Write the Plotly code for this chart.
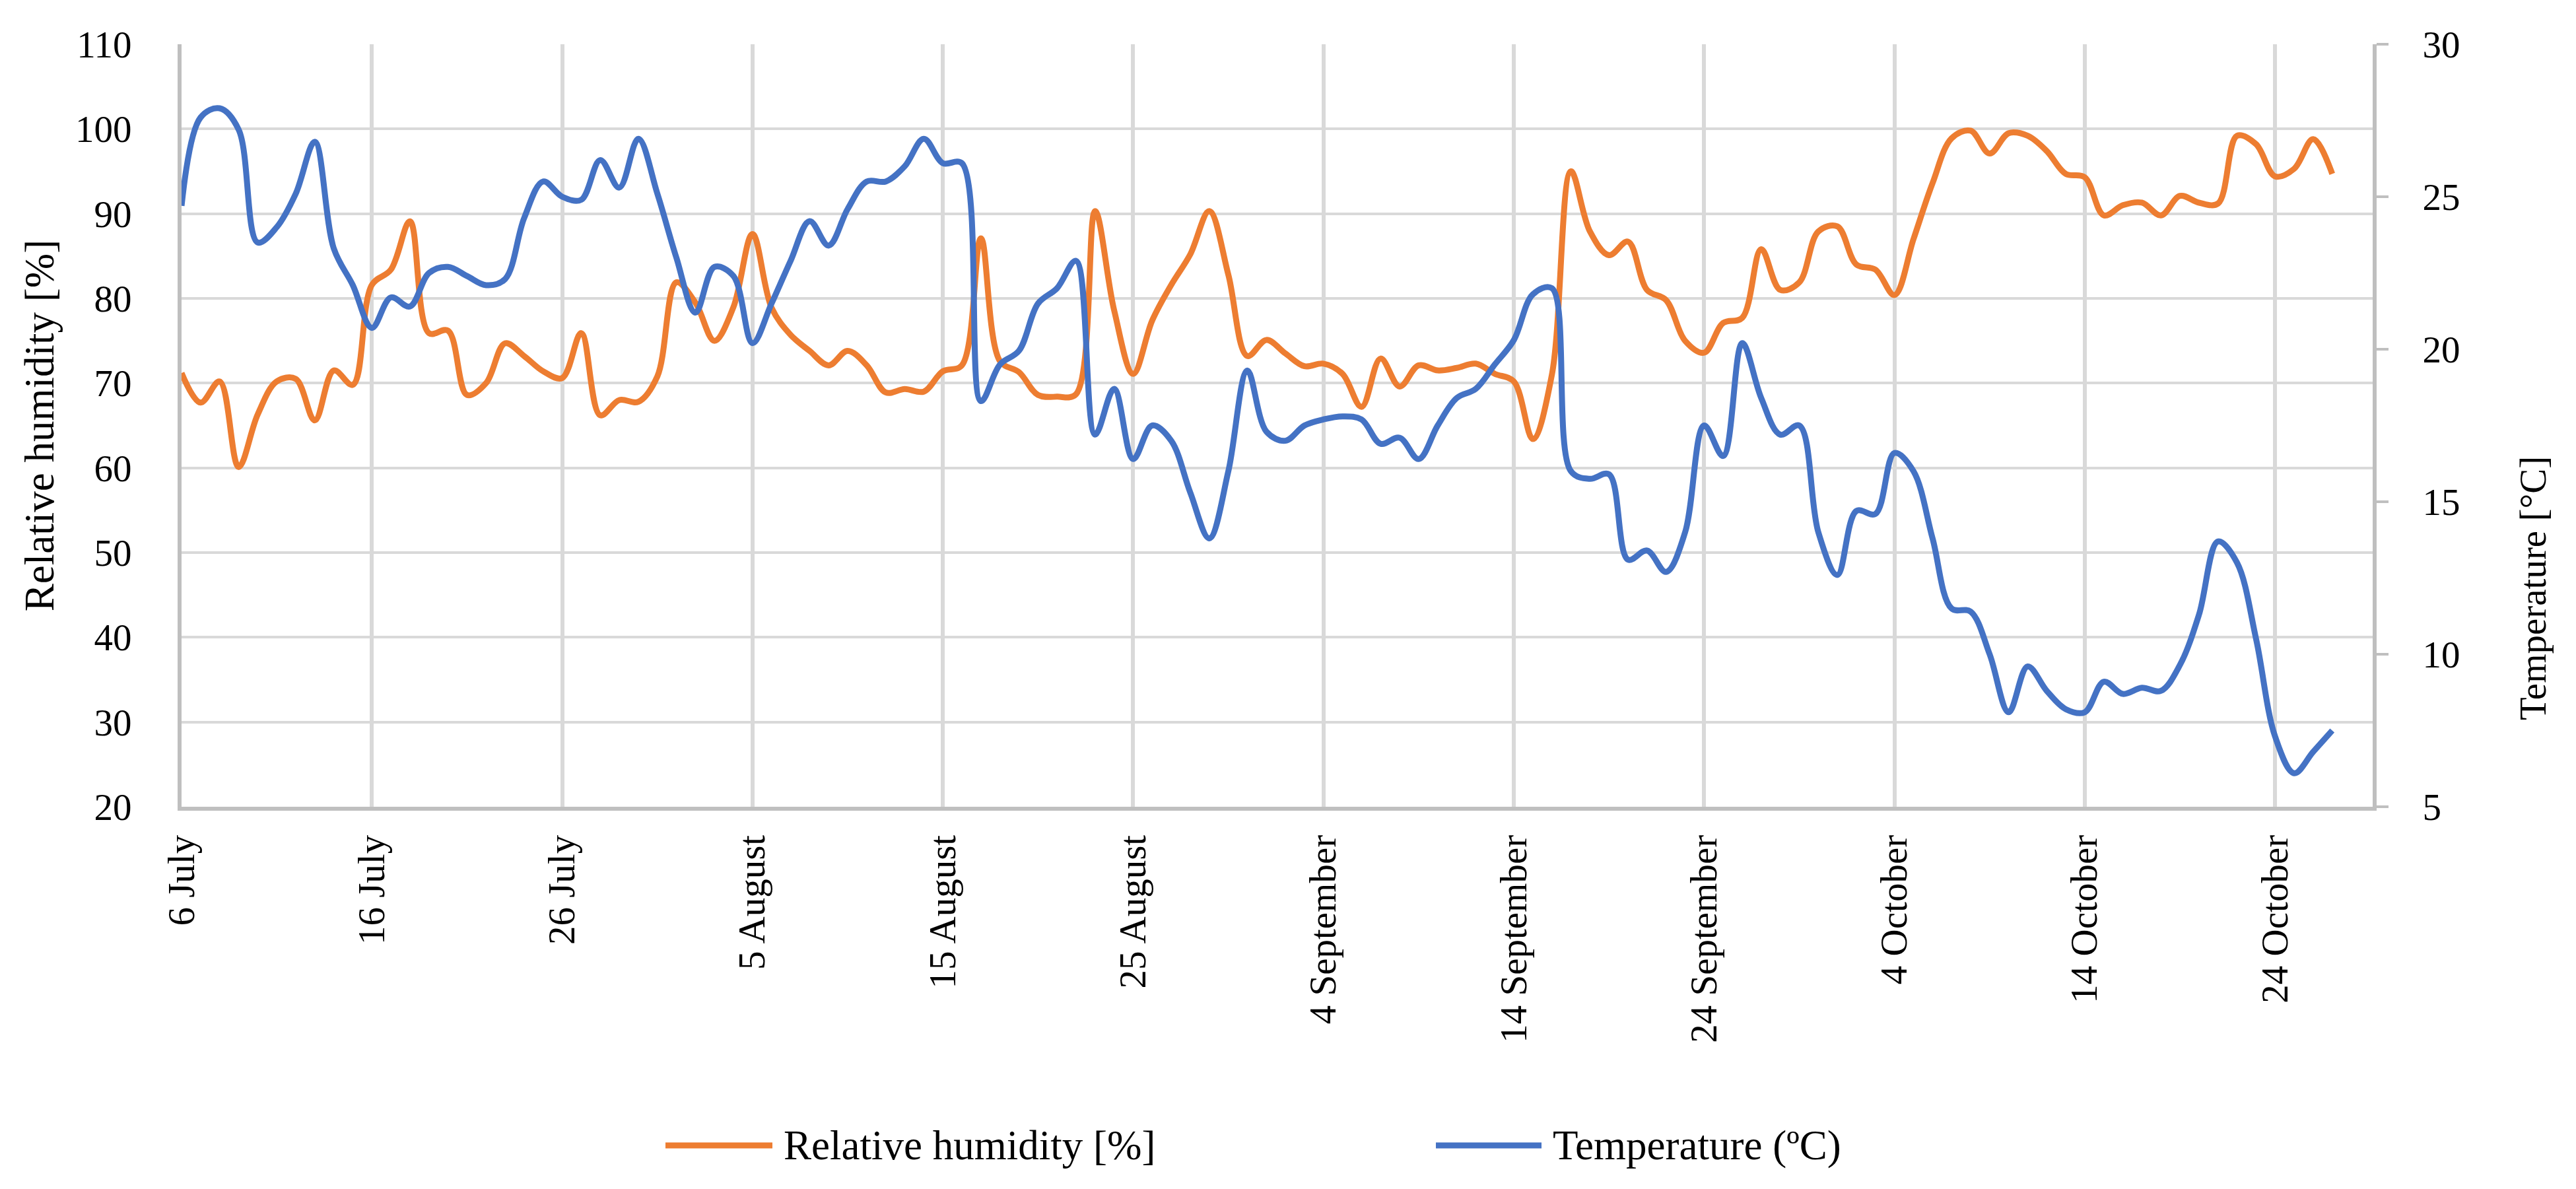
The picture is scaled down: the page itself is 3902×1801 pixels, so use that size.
import pandas as pd
import plotly.graph_objects as go

# ---------------- data ----------------
start_date = "2021-07-06"

relative_humidity = [
    71.2, 67.7, 70.2, 60.1, 66.3, 70.2, 70.5, 65.6, 71.5, 69.8,
    81.6, 83.4, 89.1, 75.9, 76.2, 68.6, 70.0, 74.7, 73.2, 71.4,
    70.6, 75.9, 66.2, 68.0, 67.8, 70.8, 81.9, 79.5, 75.0, 79.0,
    87.6, 78.9, 75.7, 73.8, 72.1, 73.8, 72.1, 68.9, 69.3, 69.0,
    71.4, 72.1, 87.1, 72.6, 71.3, 68.6, 68.4, 68.7, 90.3, 78.6,
    71.1, 77.4, 81.6, 85.2, 90.3, 82.8, 73.2, 75.1, 73.5, 72.0,
    72.3, 71.1, 67.2, 72.9, 69.6, 72.1, 71.5, 71.8, 72.3, 71.1,
    70.2, 63.4, 71.0, 95.0, 87.9, 85.1, 86.7, 81.0, 79.8, 75.0,
    73.6, 77.1, 77.7, 85.8, 81.0, 81.9, 87.9, 88.5, 84.0, 83.4,
    80.4, 87.0, 93.6, 98.9, 99.8, 97.1, 99.5, 99.2, 97.4, 94.7,
    94.3, 89.8, 91.0, 91.3, 89.8, 92.1, 91.3, 91.2, 99.2, 98.2,
    94.4, 95.3, 98.8, 94.7,
]

temperature = [
    24.7, 27.6, 27.9, 27.2, 23.5, 24.0, 25.1, 26.8, 23.3, 22.1,
    20.7, 21.7, 21.4, 22.5, 22.7, 22.4, 22.1, 22.3, 24.3, 25.5,
    25.0, 24.9, 26.2, 25.3, 26.9, 25.1, 23.0, 21.2, 22.7, 22.4,
    20.2, 21.5, 22.9, 24.2, 23.4, 24.6, 25.5, 25.5, 26.0, 26.9,
    26.1, 26.1, 18.3, 19.5, 19.95, 21.5, 22.0, 22.9, 17.2, 18.7,
    16.4, 17.5, 17.0, 15.3, 13.8, 16.0, 19.3, 17.3, 17.0, 17.5,
    17.7, 17.8, 17.7, 16.9, 17.1, 16.4, 17.5, 18.4, 18.7, 19.5,
    20.3, 21.8, 22.0, 16.0, 15.75, 15.9, 13.1, 13.4, 12.7, 14.0,
    17.5, 16.5, 20.2, 18.4, 17.2, 17.5, 14.0, 12.6, 14.7, 14.6,
    16.6, 16.0, 13.8, 11.5, 11.4, 10.0, 8.1, 9.6, 8.8, 8.2,
    8.1, 9.1, 8.7, 8.9, 8.8, 9.65, 11.3, 13.7, 13.0, 10.5,
    7.3, 6.1, 6.8, 7.5,
]

tick_dates = ["2021-07-06", "2021-07-16", "2021-07-26", "2021-08-05",
              "2021-08-15", "2021-08-25", "2021-09-04", "2021-09-14",
              "2021-09-24", "2021-10-04", "2021-10-14", "2021-10-24"]
tick_labels = ["6 July", "16 July", "26 July", "5 August", "15 August",
               "25 August", "4 September", "14 September", "24 September",
               "4 October", "14 October", "24 October"]

rh_name = "Relative humidity [%]"
t_name = "Temperature (\u00baC)"
rh_axis_title = "Relative humidity [%]"
t_axis_title = "Temperature [\u00b0C]"

# ---------------- styling ----------------
ORANGE = "#ED7D31"
BLUE = "#4472C4"
GRID = "#D9D9D9"
AXIS = "#BFBFBF"
FONT = "Liberation Serif"
FS = 57

dates = pd.date_range(start_date, periods=len(relative_humidity), freq="D")

fig = go.Figure()
fig.add_trace(go.Scatter(
    x=dates, y=relative_humidity, name=rh_name, mode="lines",
    line=dict(color=ORANGE, width=9, shape="spline", smoothing=1.0),
    yaxis="y"))
fig.add_trace(go.Scatter(
    x=dates, y=temperature, name=t_name, mode="lines",
    line=dict(color=BLUE, width=9, shape="spline", smoothing=1.0),
    yaxis="y2"))

# page has an 8px body margin -> figure placed at (8, 8)
OFF = 8
W, H = 3886, 1785
PL, PT, PW, PH = 275, 67, 3319, 1155          # plot area in page pixels
L, T = PL - OFF, PT - OFF
R = W - L - PW
B = H - T - PH

fig.update_layout(
    width=W, height=H,
    margin=dict(l=L, r=R, t=T, b=B, pad=0),
    paper_bgcolor="white", plot_bgcolor="white",
    font=dict(family=FONT, size=FS, color="black"),
    showlegend=False,
    xaxis=dict(
        type="date",
        range=["2021-07-06", "2021-10-29 03:00"],
        tickmode="array", tickvals=tick_dates, ticktext=tick_labels,
        tickangle=-90, ticks="", ticklabelstandoff=14,
        showgrid=True, gridcolor=GRID, gridwidth=6,
        showline=True, linecolor=AXIS, linewidth=6,
        zeroline=False, automargin=False,
        tickfont=dict(family=FONT, size=FS),
    ),
    yaxis=dict(
        range=[20, 110], dtick=10, tick0=20,
        ticks="", ticklabelstandoff=58,
        showgrid=True, gridcolor=GRID, gridwidth=4,
        showline=True, linecolor=AXIS, linewidth=6,
        zeroline=False, automargin=False,
        title=dict(text=rh_axis_title, standoff=14,
                   font=dict(family=FONT, size=63)),
        tickfont=dict(family=FONT, size=FS),
    ),
    yaxis2=dict(
        overlaying="y", side="right",
        range=[5, 30], dtick=5, tick0=5,
        ticks="outside", ticklen=18, tickwidth=4, tickcolor=AXIS,
        ticklabelstandoff=40,
        showgrid=False, showline=True, linecolor=AXIS, linewidth=6,
        zeroline=False, automargin=False,
        tickfont=dict(family=FONT, size=FS),
    ),
)

def px_x(xp):
    return (xp - PL) / PW
def px_y(yp):
    return (PT + PH - yp) / PH

# right axis title sits low beside the axis, as in the original
fig.add_annotation(xref="paper", yref="paper", x=px_x(3836), y=px_y(891),
                   text=t_axis_title, showarrow=False, textangle=-90,
                   xanchor="center", yanchor="middle",
                   font=dict(family=FONT, size=FS, color="black"))

# ---------------- custom legend (long line samples, like the original) ----------------
leg_y = px_y(1735)
legend_items = [(ORANGE, rh_name, 1008, 1170, 1185),
                (BLUE, t_name, 2175, 2335, 2350)]
for color, label, x0, x1, xt in legend_items:
    fig.add_shape(type="line", xref="paper", yref="paper",
                  x0=px_x(x0), x1=px_x(x1), y0=leg_y, y1=leg_y,
                  line=dict(color=color, width=9))
    fig.add_annotation(xref="paper", yref="paper", x=px_x(xt), y=leg_y,
                       text=label, showarrow=False, xanchor="left",
                       yanchor="middle",
                       font=dict(family=FONT, size=63, color="black"))

fig.write_html("out.html")
